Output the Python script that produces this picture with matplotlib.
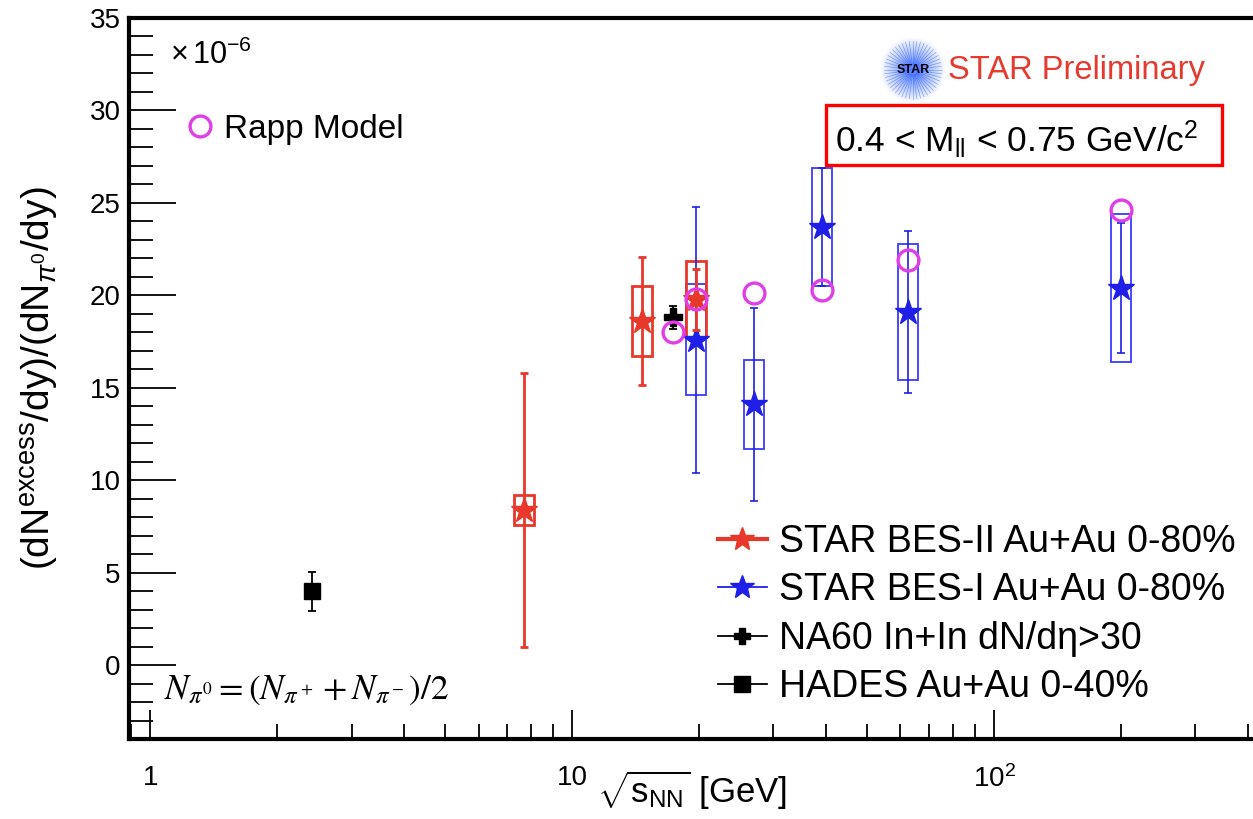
import numpy as np
import matplotlib
matplotlib.use("Agg")
import matplotlib.pyplot as plt
from matplotlib.lines import Line2D
from matplotlib.patches import Rectangle
from matplotlib.ticker import FixedLocator, NullFormatter

plt.rcParams['font.family'] = ['Liberation Sans', 'DejaVu Sans']
plt.rcParams['mathtext.fontset'] = 'custom'
plt.rcParams['mathtext.rm'] = 'Liberation Sans'
plt.rcParams['mathtext.it'] = 'Liberation Sans:italic'
plt.rcParams['mathtext.bf'] = 'Liberation Sans:bold'

# STAR BES-II Au+Au 0-80%
snn_bes2 = [7.7, 14.6, 19.6]
y_bes2 = [8.4, 18.6, 19.8]
stat_bes2 = [7.4, 3.45, 1.65]
sys_bes2 = [0.8, 1.9, 2.05]

# STAR BES-I Au+Au 0-80%
snn_bes1 = [19.6, 27.0, 39.0, 62.4, 200.0]
y_bes1 = [17.6, 14.1, 23.7, 19.1, 20.4]
stat_bes1 = [7.2, 5.2, 3.2, 4.4, 3.5]
sys_bes1 = [3.0, 2.4, 3.2, 3.7, 4.0]

# NA60 In+In
snn_na60 = [17.3]
y_na60 = [18.8]
err_na60 = [0.6]

# HADES Au+Au 0-40%
snn_hades = [2.42]
y_hades = [4.0]
err_hades = [1.05]

# Rapp model
snn_rapp = [17.3, 19.6, 27.0, 39.0, 62.4, 200.0]
y_rapp = [18.0, 19.8, 20.1, 20.3, 21.9, 24.6]

RED = '#e8372b'
BLUE = '#1f1fe8'
BOXBLUE = '#3a3aff'
MAGENTA = '#e03ee6'
BOX_HW = 10 ** (10 / 422)   # half width of the sys boxes, as a log factor

fig = plt.figure(figsize=(12.53, 8.19), dpi=100)
ax = fig.add_axes([129 / 1253, 80 / 819, 1128 / 1253, 721 / 819])
ax.set_xscale('log')
ax.set_xlim(0.89, 420)
ax.set_ylim(-4, 35)


def sys_boxes(xs, ys, errs, color, lw):
    for x, y, e in zip(xs, ys, errs):
        ax.add_patch(Rectangle((x / BOX_HW, y - e), x * BOX_HW - x / BOX_HW, 2 * e,
                               fill=False, edgecolor=color, lw=lw, zorder=3))


# BES-I first, BES-II drawn over it
sys_boxes(snn_bes1, y_bes1, sys_bes1, BOXBLUE, 1.3)
ax.errorbar(snn_bes1, y_bes1, yerr=stat_bes1, fmt='*', color=BLUE, ms=19,
            elinewidth=1.2, capsize=3, capthick=1.2, zorder=4)
sys_boxes(snn_bes2, y_bes2, sys_bes2, RED, 2.0)
ax.errorbar(snn_bes2, y_bes2, yerr=stat_bes2, fmt='*', color=RED, ms=19,
            elinewidth=2.0, capsize=3, capthick=2.0, zorder=5)
ax.errorbar(snn_na60, y_na60, yerr=err_na60, fmt='P', color='black', ms=13,
            elinewidth=1.3, capsize=3, capthick=1.3, zorder=5)
ax.errorbar(snn_hades, y_hades, yerr=err_hades, fmt='s', color='black', ms=12,
            elinewidth=1.3, capsize=3, capthick=1.3, zorder=5)
ax.plot(snn_rapp, y_rapp, 'o', mfc='none', mec=MAGENTA, ms=15, mew=2.4, zorder=6)

# axes styling (ticks inside, thick frame)
for side in ['left', 'bottom', 'top']:
    ax.spines[side].set_linewidth(3)
ax.spines['right'].set_visible(False)
ax.set_yticks(np.arange(0, 36, 5))
ax.yaxis.set_minor_locator(FixedLocator(np.arange(-4, 36, 1)))
ax.set_xticks([1, 10, 100])
ax.set_xticklabels(['1', '10', r'$10^{2}$'])
ax.xaxis.set_minor_formatter(NullFormatter())
ax.tick_params(axis='y', which='major', direction='in', length=34, width=1.3,
               labelsize=20, pad=6)
ax.tick_params(axis='y', which='minor', direction='in', length=17, width=1.3)
ax.tick_params(axis='x', which='major', direction='in', length=21, width=1.3,
               labelsize=20, pad=19)
ax.tick_params(axis='x', which='minor', direction='in', length=11, width=1.3)

fig.text(692 / 1253, 1 - 790 / 819, r'$\sqrt{\mathrm{s}_{\mathrm{NN}}}$ [GeV]',
         fontsize=25, ha='center', va='center')
fig.text(40 / 1253, 1 - 378 / 819, r'(dN$^{\mathrm{excess}}$/dy)/(dN$_{\pi^0}$/dy)',
         fontsize=28, ha='center', va='center', rotation=90)

fig.text(170 / 1253, 1 - 55 / 819, r'$\times\,10^{-6}$', fontsize=22, va='center')

# main legend
handles = [
    Line2D([], [], color=RED, lw=3, marker='*', ms=18),
    Line2D([], [], color=BLUE, lw=1.3, marker='*', ms=18),
    Line2D([], [], color='black', lw=1.3, marker='P', ms=12),
    Line2D([], [], color='black', lw=1.3, marker='s', ms=11),
]
labels = ['STAR BES-II Au+Au 0-80%', 'STAR BES-I Au+Au 0-80%',
          'NA60 In+In dN/dη>30', 'HADES Au+Au 0-40%']
leg = ax.legend(handles, labels, loc='upper left', frameon=False, fontsize=27,
                handlelength=1.3, handletextpad=0.33, labelspacing=0.33,
                borderpad=0, borderaxespad=0,
                bbox_to_anchor=(718 / 1253, 1 - 524 / 819),
                bbox_transform=fig.transFigure)
ax.add_artist(leg)

# model legend
ax.legend([Line2D([], [], ls='none', marker='o', mfc='none', mec=MAGENTA, ms=15, mew=2.4)],
          ['Rapp Model'], loc='upper left', frameon=False, fontsize=24,
          handlelength=0.7, handletextpad=0.38, borderpad=0, borderaxespad=0,
          bbox_to_anchor=(188 / 1253, 1 - 114 / 819),
          bbox_transform=fig.transFigure)

# pion normalisation
fig.text(164 / 1253, 1 - 690 / 819, r'$N_{\pi^0} = (N_{\pi^+} + N_{\pi^-})/2$',
         fontsize=25.5, va='center', math_fontfamily='stix')

# mass window box
fig.text(835 / 1253, 1 - 140 / 819, r'0.4 < M$_{\mathrm{ll}}$ < 0.75 GeV/c$^{2}$',
         fontsize=25.5, ha='left', va='center')
fig.patches.append(Rectangle((826 / 1253, 1 - 165 / 819), 396 / 1253, 60 / 819,
                             transform=fig.transFigure, fill=False,
                             edgecolor='#ff0000', lw=2.4))

fig.text(948 / 1253, 1 - 70 / 819, 'STAR Preliminary', color='#e53a2f',
         fontsize=23.5, va='center')

# STAR logo: blue glow with rays
lax = fig.add_axes([881 / 1253, 1 - 102 / 819, 64 / 1253, 64 / 819])
g = np.linspace(-1, 1, 120)
gx, gy = np.meshgrid(g, g)
r = np.hypot(gx, gy)
glow = np.zeros((120, 120, 4))
glow[..., 0] = 0.3
glow[..., 1] = 0.5
glow[..., 2] = 1.0
glow[..., 3] = np.clip(1.05 - r, 0, 1) ** 1.1
lax.imshow(glow, extent=(-1, 1, -1, 1))
ang = np.linspace(0, 2 * np.pi, 48, endpoint=False)
for a in ang:
    lax.plot([0.15 * np.cos(a), 0.9 * np.cos(a)], [0.15 * np.sin(a), 0.9 * np.sin(a)],
             color='#3050ff', lw=0.5, alpha=0.5)
lax.text(0, 0, 'STAR', fontsize=9, fontweight='bold', ha='center', va='center',
         color='black')
lax.set_xlim(-1, 1)
lax.set_ylim(-1, 1)
lax.axis('off')

fig.savefig('out.png', dpi=100)
